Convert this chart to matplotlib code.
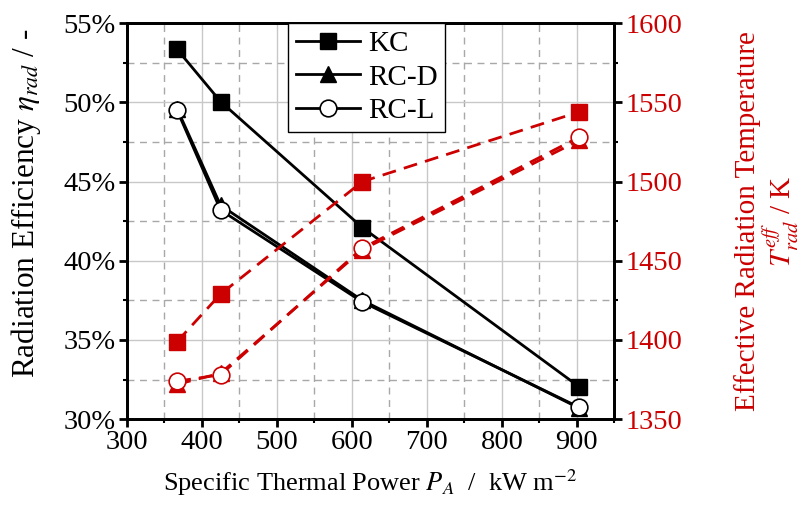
import matplotlib
matplotlib.use("Agg")
import matplotlib.pyplot as plt
from matplotlib.ticker import MultipleLocator, FuncFormatter

matplotlib.rcParams['font.family'] = 'Liberation Serif'
matplotlib.rcParams['mathtext.fontset'] = 'stix'
matplotlib.rcParams['font.size'] = 20.5

# data
power = [367, 425, 614, 903]
eff_kc = [53.35, 50.05, 42.1, 32.05]
eff_rcd = [49.6, 43.5, 37.5, 30.7]
eff_rcl = [49.5, 43.2, 37.4, 30.75]
temp_kc = [1399, 1429, 1500, 1544]
temp_rcd = [1372, 1379, 1457, 1526]
temp_rcl = [1374, 1378, 1458, 1528]

red = '#cc0000'

fig = plt.figure(figsize=(8.03, 5.05), dpi=100)
ax = fig.add_axes([0.158, 0.17, 0.607, 0.784])
ax2 = ax.twinx()

ax.plot(power, eff_kc, color='black', lw=2, marker='s', ms=12, label='KC')
ax.plot(power, eff_rcd, color='black', lw=2, marker='^', ms=12, label='RC-D')
ax.plot(power, eff_rcl, color='black', lw=2, marker='o', ms=12, mfc='white', mew=1.2, label='RC-L')

ax2.plot(power, temp_kc, color=red, lw=2, ls=(0, (5, 3)), marker='s', ms=12)
ax2.plot(power, temp_rcd, color=red, lw=2, ls=(0, (5, 3)), marker='^', ms=12)
ax2.plot(power, temp_rcl, color=red, lw=2, ls=(0, (5, 3)), marker='o', ms=12, mfc='white', mew=1.2)

ax.set_xlim(300, 950)
ax.set_ylim(30, 55)
ax2.set_ylim(1350, 1600)

ax.xaxis.set_major_locator(MultipleLocator(100))
ax.xaxis.set_minor_locator(MultipleLocator(50))
ax.yaxis.set_major_locator(MultipleLocator(5))
ax.yaxis.set_minor_locator(MultipleLocator(2.5))
ax.yaxis.set_major_formatter(FuncFormatter(lambda v, p: '%d%%' % v))
ax2.yaxis.set_major_locator(MultipleLocator(50))
ax2.yaxis.set_minor_locator(MultipleLocator(25))

ax.grid(True, which='major', color='#c8c8c8', lw=1, ls='-')
ax.grid(True, which='minor', color='#a8a8a8', lw=1, ls=(0, (5, 4)))
ax.set_axisbelow(True)

for a in (ax, ax2):
    for s in a.spines.values():
        s.set_linewidth(2)
ax.tick_params(which='major', direction='out', length=6, width=2, pad=2)
ax.tick_params(which='minor', direction='out', length=3, width=1.5)
ax2.tick_params(which='major', direction='out', length=6, width=2, colors='black',
                labelcolor=red, pad=2)
ax2.tick_params(which='minor', direction='out', length=3, width=1.5)

ax.set_xlabel('Specific Thermal Power $P_A$  /  kW m$^{-2}$', fontsize=19, labelpad=9)
ax.set_ylabel('Radiation Efficiency $\\eta_{rad}$ / -', fontsize=22.5)
ax.yaxis.set_label_coords(-0.172, 0.544)
ax2.set_ylabel('Effective Radiation Temperature\n$T_{rad}^{eff}$ / K', fontsize=21,
               color=red, linespacing=1.0)
ax2.yaxis.set_label_coords(1.245, 0.5)

h, l = ax.get_legend_handles_labels()
leg = ax2.legend(h, l, loc='upper left', bbox_to_anchor=(0.331, 1.0), borderaxespad=0,
                 fontsize=21, frameon=True, fancybox=False, edgecolor='black',
                 framealpha=1, handlelength=2.2, handletextpad=0.3, borderpad=0.25,
                 labelspacing=0.25)
leg.get_frame().set_linewidth(1)

fig.savefig('out.png', dpi=100)
